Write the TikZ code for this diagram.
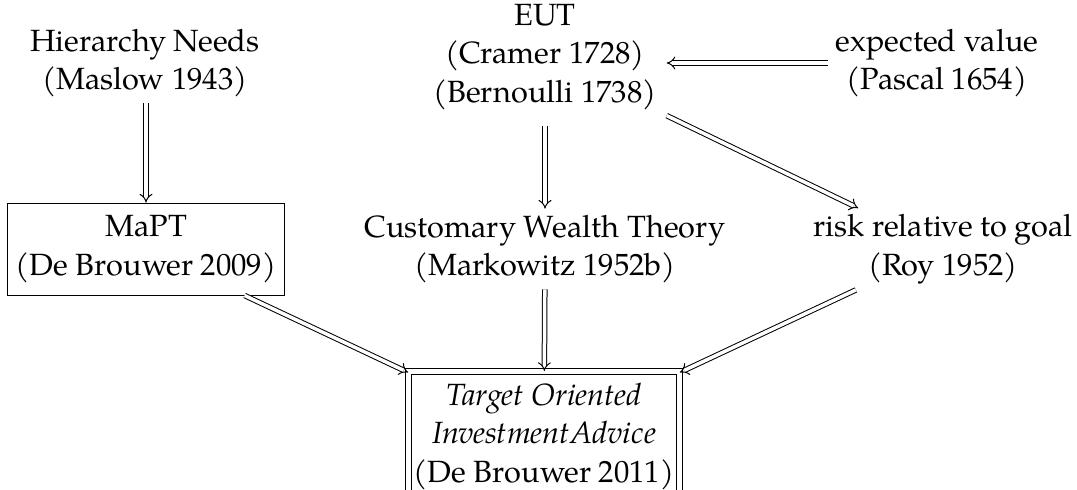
\documentclass[tikz,border=0pt]{standalone}
\usepackage{fontspec}
\setmainfont{TeX Gyre Pagella}
\usetikzlibrary{arrows.meta}
\begin{document}
\begin{tikzpicture}[x=1pt,y=-1pt,
  txt/.style={align=center, font=\fontsize{30.7}{38.5}\selectfont, inner xsep=8pt, inner ysep=6pt},
  boxed/.style={txt, draw, line width=1pt, minimum width=272pt, minimum height=92pt},
  dbl/.style={txt, draw, double, line width=1pt, double distance=4.5pt, inner xsep=5pt, inner ysep=11pt},
  arr/.style={double, line width=1pt, double distance=3.5pt, -{Implies[scale=1.25]}}]
\useasboundingbox (0,0) rectangle (1077,490);
\node[txt] (hier) at (145,63) {Hierarchy Needs\\(Maslow 1943)};
\node[txt, inner ysep=16pt, inner xsep=10pt] (eut) at (545,57) {EUT\\(Cramer 1728)\\(Bernoulli 1738)};
\node[txt] (exp) at (937,63) {expected value\\(Pascal 1654)};
\node[boxed] (mapt) at (146,249) {MaPT\\(De Brouwer 2009)};
\node[txt] (cwt) at (545,249) {Customary Wealth Theory\\(Markowitz 1952b)};
\node[txt] (risk) at (943,249) {risk relative to goal\\(Roy 1952)};
\node[dbl, anchor=north] (toia) at (544,371) {\itshape Target Oriented\\\itshape InvestmentAdvice\\(De Brouwer 2011)};
\draw[arr] (hier.south -| mapt.north) -- (mapt.north);
\draw[arr] (exp.west) -- (exp.west -| eut.east);
\draw[arr] (eut) -- (cwt);
\draw[arr] (eut) -- (risk);
\draw[arr] (mapt) -- (toia);
\draw[arr] (cwt) -- (toia);
\draw[arr] (risk) -- (toia);
\end{tikzpicture}
\end{document}
